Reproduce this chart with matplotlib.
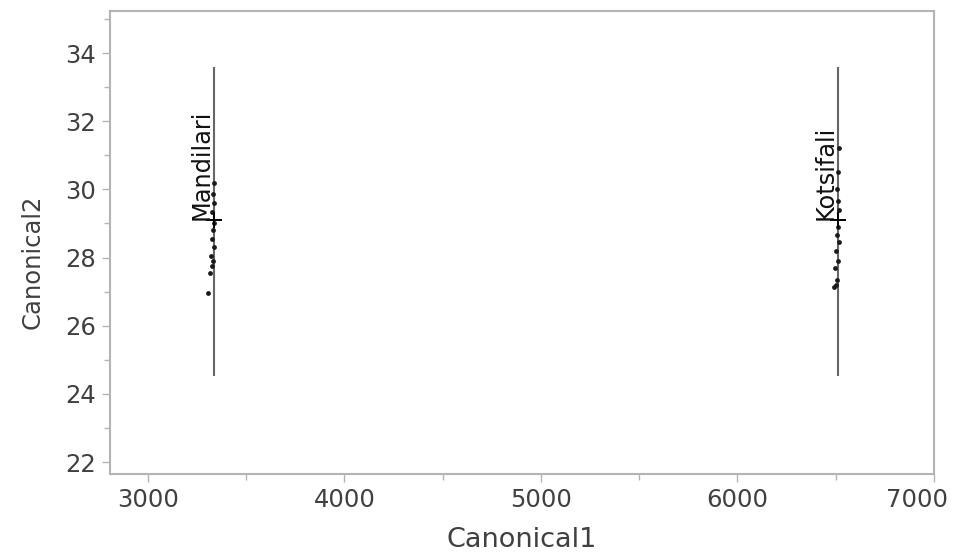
import matplotlib
matplotlib.use('Agg')
import matplotlib.pyplot as plt
from matplotlib.ticker import MultipleLocator
from matplotlib.transforms import ScaledTranslation

# groups (canonical plot, JMP style)
GRUPOS = ['Mandilari', 'Kotsifali']
MEDIA_C1 = [3336, 6511]
MEDIA_C2 = [29.1, 29.1]
ELIPSE_C2_MIN = [24.55, 24.55]
ELIPSE_C2_MAX = [33.55, 33.55]

# individual samples
MANDILARI_C1 = [3305, 3318, 3325, 3330, 3322, 3335, 3328, 3332, 3338, 3326, 3334, 3330, 3336]
MANDILARI_C2 = [26.95, 27.55, 27.75, 27.9, 28.05, 28.3, 28.55, 28.8, 29.0, 29.35, 29.6, 29.85, 30.2]
KOTSIFALI_C1 = [6490, 6500, 6505, 6495, 6510, 6502, 6515, 6508, 6512, 6518, 6510, 6505, 6514, 6516]
KOTSIFALI_C2 = [27.15, 27.2, 27.35, 27.7, 27.9, 28.2, 28.45, 28.65, 28.9, 29.4, 29.65, 30.0, 30.5, 31.2]

GRIS_EJE = '#b4b4b4'
GRIS_TEXTO = '#404040'

fig = plt.figure(figsize=(9.55, 5.54), dpi=100)
ax = fig.add_axes([0.1152, 0.1444, 0.978 - 0.1152, 0.980 - 0.1444])

# squashed confidence ellipses -> appear as vertical lines
for i in range(len(GRUPOS)):
    ax.plot([MEDIA_C1[i], MEDIA_C1[i]], [ELIPSE_C2_MIN[i], ELIPSE_C2_MAX[i]],
            color='#666666', lw=1.5, zorder=2)

ax.scatter(MANDILARI_C1, MANDILARI_C2, s=12, c='#1a1a1a', zorder=3, linewidths=0)
ax.scatter(KOTSIFALI_C1, KOTSIFALI_C2, s=12, c='#1a1a1a', zorder=3, linewidths=0)
ax.scatter(MEDIA_C1, MEDIA_C2, marker='+', s=120, c='black', linewidths=1.4, zorder=4)

for i, g in enumerate(GRUPOS):
    ax.text(MEDIA_C1[i], MEDIA_C2[i], g, rotation=90, ha='right', va='bottom',
            fontsize=17.3, color='#111111', zorder=5)

ax.set_xlim(2807, 7000)
ax.set_ylim(21.65, 35.23)
ax.xaxis.set_major_locator(MultipleLocator(1000))
ax.xaxis.set_minor_locator(MultipleLocator(500))
ax.yaxis.set_major_locator(MultipleLocator(2))
ax.yaxis.set_minor_locator(MultipleLocator(1))

for sp in ax.spines.values():
    sp.set_color(GRIS_EJE)
    sp.set_linewidth(1.5)

ax.tick_params(which='major', length=6, width=1, color=GRIS_EJE,
               labelsize=17.5, labelcolor=GRIS_TEXTO, pad=4)
ax.tick_params(which='minor', length=4, width=1, color=GRIS_EJE)

ax.set_xlabel('Canonical1', fontsize=19.5, color=GRIS_TEXTO, labelpad=11)
ax.set_ylabel('Canonical2', fontsize=17.5, color=GRIS_TEXTO)
ax.yaxis.set_label_coords(-0.079, 0.458)

# the last x label is pulled inside the figure, as in the original
fig.canvas.draw()
for tick in ax.xaxis.get_major_ticks():
    if tick.label1.get_text() == '7000':
        lab = tick.label1
        lab.set_transform(lab.get_transform() + ScaledTranslation(-0.17, 0, fig.dpi_scale_trans))

fig.savefig('out.png', dpi=100)
